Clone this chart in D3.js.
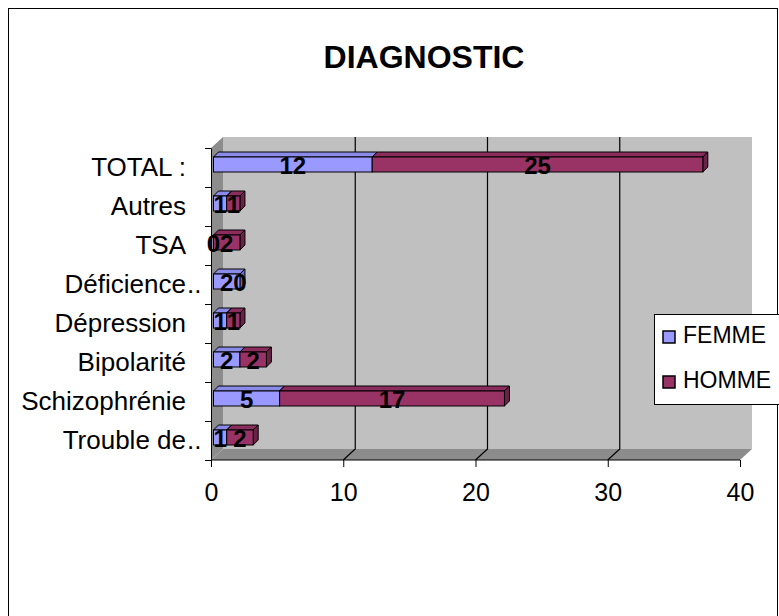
<!DOCTYPE html>
<html>
<head>
<meta charset="utf-8">
<script src="https://cdn.jsdelivr.net/npm/d3@7"></script>
<style>
  body { margin: 0; background: #fff; }
  text { font-family: "Liberation Sans", Arial, sans-serif; }
</style>
</head>
<body>
<div id="chart"></div>
<script>
// data (bottom to top)
var categories = ["Trouble de…", "Schizophrénie", "Bipolarité", "Dépression", "Déficience…", "TSA", "Autres", "TOTAL :"];
var femme = [1, 5, 2, 1, 2, 0, 1, 12];
var homme = [2, 17, 2, 1, 0, 2, 1, 25];
var seriesNames = ["FEMME", "HOMME"];
var xTicks = [0, 10, 20, 30, 40];

var svgWidth = 779;
var svgHeight = 616;

var colors = {
  FEMME: { front: "#9999FF", top: "#8a8ae8", side: "#6c6cb8" },
  HOMME: { front: "#993366", top: "#8a2d5c", side: "#6a2346" }
};

// front plane of the 3D box, depth offset to the back wall
var plot = { left: 211, right: 740, top: 148, bottom: 460 };
var depth = { dx: 12, dy: -11 };
var barDepth = 5;

var svg = d3.select("#chart")
  .append("svg")
  .attr("width", svgWidth)
  .attr("height", svgHeight);

// outer chart border
svg.append("rect")
  .attr("x", 8.5)
  .attr("y", 8.5)
  .attr("width", 769)
  .attr("height", 700)
  .attr("fill", "#fff")
  .attr("stroke", "#000")
  .attr("stroke-width", 1);

svg.append("text")
  .attr("x", 424)
  .attr("y", 68)
  .attr("text-anchor", "middle")
  .style("font-size", "32px")
  .style("font-weight", "bold")
  .text("DIAGNOSTIC");

var xScale = d3.scaleLinear()
  .domain([0, 40])
  .range([plot.left, plot.right]);

var yScale = d3.scaleBand()
  .domain(categories.slice().reverse())
  .range([plot.top, plot.bottom]);

// walls
var pt = p => p.join(",");
svg.append("polygon") // back wall
  .attr("points", [
    [plot.left + depth.dx, plot.top + depth.dy],
    [plot.right + depth.dx, plot.top + depth.dy],
    [plot.right + depth.dx, plot.bottom + depth.dy],
    [plot.left + depth.dx, plot.bottom + depth.dy]
  ].map(pt).join(" "))
  .attr("fill", "#C0C0C0");

svg.append("polygon") // left wall
  .attr("points", [
    [plot.left, plot.top],
    [plot.left + depth.dx, plot.top + depth.dy],
    [plot.left + depth.dx, plot.bottom + depth.dy],
    [plot.left, plot.bottom]
  ].map(pt).join(" "))
  .attr("fill", "#8c8c8c");

svg.append("polygon") // floor
  .attr("points", [
    [plot.left, plot.bottom],
    [plot.left + depth.dx, plot.bottom + depth.dy],
    [plot.right + depth.dx, plot.bottom + depth.dy],
    [plot.right, plot.bottom]
  ].map(pt).join(" "))
  .attr("fill", "#8c8c8c");

// gridlines on back wall + floor
var grid = svg.append("g").attr("stroke", "#000").attr("stroke-width", 1.2).attr("fill", "none");
xTicks.filter(v => v > 0 && v < 40).forEach(function(v) {
  grid.append("polyline")
    .attr("points", [
      [xScale(v), plot.bottom],
      [xScale(v) + depth.dx, plot.bottom + depth.dy],
      [xScale(v) + depth.dx, plot.top + depth.dy]
    ].map(pt).join(" "));
});

// bottom axis
var bottomAxis = d3.axisBottom(xScale)
  .tickValues(xTicks)
  .tickSize(7)
  .tickPadding(16);

var xAxis = svg.append("g")
  .attr("transform", `translate(0, ${plot.bottom})`)
  .call(bottomAxis);
xAxis.select(".domain").attr("stroke", "#000").attr("d", `M${plot.left},0H${plot.right}`);
xAxis.selectAll("text").style("font-size", "25px").attr("fill", "#000")
  .style("font-family", "'Liberation Sans', Arial, sans-serif");

// left axis (labels centred in bands, ticks at band edges)
var leftAxis = d3.axisLeft(yScale).tickSize(0).tickPadding(25);
var yAxis = svg.append("g")
  .attr("transform", `translate(${plot.left}, 0)`)
  .call(leftAxis);
yAxis.select(".domain").attr("stroke", "#000");
yAxis.selectAll("text")
  .style("font-size", "26px")
  .style("font-family", "'Liberation Sans', Arial, sans-serif")
  .attr("fill", "#000")
  .each(function(d) {
    // truncated labels: the ellipsis hangs past the right edge
    if (d.endsWith("…")) {
      var t = d3.select(this);
      t.text(d.slice(0, -1));
      yAxis.append("text")
        .attr("x", -24)
        .attr("y", yScale(d) + yScale.bandwidth() / 2)
        .attr("dy", "0.32em")
        .attr("text-anchor", "start")
        .style("font-size", "26px")
        .style("font-family", "'Liberation Sans', Arial, sans-serif")
        .attr("fill", "#000")
        .text("..");
    }
  });

var edges = categories.map(c => yScale(c)).concat([plot.bottom]);
svg.append("g")
  .selectAll("line")
  .data(edges)
  .enter()
  .append("line")
  .attr("x1", plot.left - 6)
  .attr("x2", plot.left)
  .attr("y1", d => d + 0.5)
  .attr("y2", d => d + 0.5)
  .attr("stroke", "#000");

// stacked 3D bars
var bars = svg.append("g");
var labels = svg.append("g");
var barH = 15;
var shift = 2.5;

categories.forEach(function(cat, i) {
  var yc = yScale(cat) + yScale.bandwidth() / 2 - 3;
  var y0 = yc - barH / 2;
  var segs = [
    { name: "FEMME", start: 0, value: femme[i] },
    { name: "HOMME", start: femme[i], value: homme[i] }
  ];
  segs.forEach(function(s) {
    var x0 = xScale(s.start) + shift;
    var x1 = xScale(s.start + s.value) + shift;
    var c = colors[s.name];
    if (s.value > 0) {
      bars.append("polygon")
        .attr("points", [[x0, y0], [x0 + barDepth, y0 - barDepth], [x1 + barDepth, y0 - barDepth], [x1, y0]].map(pt).join(" "))
        .attr("fill", c.top).attr("stroke", "#000").attr("stroke-width", 1);
      bars.append("polygon")
        .attr("points", [[x1, y0], [x1 + barDepth, y0 - barDepth], [x1 + barDepth, y0 + barH - barDepth], [x1, y0 + barH]].map(pt).join(" "))
        .attr("fill", c.side).attr("stroke", "#000").attr("stroke-width", 1);
      bars.append("rect")
        .attr("x", x0).attr("y", y0)
        .attr("width", x1 - x0).attr("height", barH)
        .attr("fill", c.front).attr("stroke", "#000").attr("stroke-width", 1);
    }
    labels.append("text")
      .attr("x", (x0 + x1) / 2)
      .attr("y", yc)
      .attr("dy", "0.38em")
      .attr("text-anchor", "middle")
      .style("font-size", "24px")
      .style("font-weight", "bold")
      .text(s.value);
  });
});

// legend
var legend = svg.append("g");
legend.append("rect")
  .attr("x", 654.5).attr("y", 314.5)
  .attr("width", 140).attr("height", 90)
  .attr("fill", "#fff").attr("stroke", "#000");

seriesNames.forEach(function(name, i) {
  legend.append("rect")
    .attr("x", 663).attr("y", 331 + i * 45)
    .attr("width", 12).attr("height", 12)
    .attr("fill", colors[name].front)
    .attr("stroke", "#000").attr("stroke-width", 1.5);
  legend.append("text")
    .attr("x", 683).attr("y", 343 + i * 45)
    .style("font-size", "23px")
    .text(name);
});
</script>
</body>
</html>
